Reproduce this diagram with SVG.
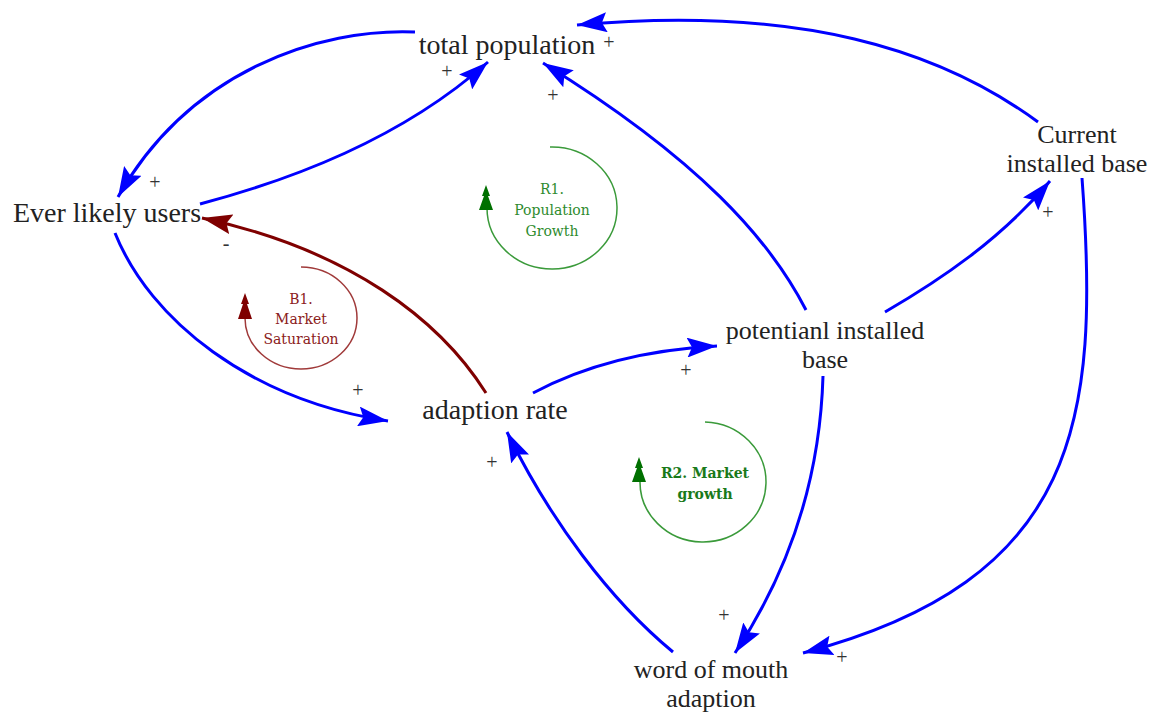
<svg xmlns="http://www.w3.org/2000/svg" width="1165" height="715" viewBox="0 0 1165 715">
  <style>
    .node { font-family: "Liberation Serif", "Times New Roman", serif; font-size: 28px; fill: #222; text-anchor: middle; }
    .node2 { font-family: "Liberation Serif", "Times New Roman", serif; font-size: 26px; fill: #222; text-anchor: middle; }
    .pol { font-family: "Liberation Serif", "Times New Roman", serif; font-size: 20px; fill: #333; text-anchor: middle; }
    .link { fill: none; stroke: #0000ff; stroke-width: 3; }
    .neg { fill: none; stroke: #7f0000; stroke-width: 3; }
    .loop-g { fill: none; stroke: #3a9a3a; stroke-width: 1.5; }
    .loop-r { fill: none; stroke: #a03a3a; stroke-width: 1.5; }
    .lbl { font-family: "DejaVu Serif", serif; font-size: 14px; text-anchor: middle; }
  </style>
  <defs>
    <marker id="arrowBlue" markerUnits="userSpaceOnUse" markerWidth="32" markerHeight="20" refX="30" refY="10" orient="auto">
      <path d="M0,0 L30,10 L0,20 L5,10 z" fill="#0000ff"/>
    </marker>
    <marker id="arrowRed" markerUnits="userSpaceOnUse" markerWidth="32" markerHeight="20" refX="30" refY="10" orient="auto">
      <path d="M0,0 L30,10 L0,20 L5,10 z" fill="#7f0000"/>
    </marker>
  </defs>
  <rect width="1165" height="715" fill="#ffffff"/>

  <!-- causal links -->
  <g id="connectors">
    <path class="link" d="M415,32 C320,28 190,70 118,197" marker-end="url(#arrowBlue)"/>
    <path class="link" d="M200,204 C290,180 400,140 488,62" marker-end="url(#arrowBlue)"/>
    <path class="link" d="M806,310 C770,240 700,160 543,63" marker-end="url(#arrowBlue)"/>
    <path class="link" d="M1038,122 C940,50 800,5 577,25" marker-end="url(#arrowBlue)"/>
    <path class="link" d="M115,233 C150,320 250,400 388,421" marker-end="url(#arrowBlue)"/>
    <path class="neg" d="M486,393 C440,320 350,250 202,218" marker-end="url(#arrowRed)"/>
    <path class="link" d="M533,393 C580,368 640,350 717,346" marker-end="url(#arrowBlue)"/>
    <path class="link" d="M885,312 C940,280 1000,240 1050,181" marker-end="url(#arrowBlue)"/>
    <path class="link" d="M1082,178 C1100,420 1080,580 803,653" marker-end="url(#arrowBlue)"/>
    <path class="link" d="M823,376 C820,480 790,570 735,653" marker-end="url(#arrowBlue)"/>
    <path class="link" d="M673,652 C610,600 550,520 507,432" marker-end="url(#arrowBlue)"/>
  </g>

  <!-- link polarities -->
  <g id="polarities">
    <text class="pol" x="447" y="78">+</text>
    <text class="pol" x="609" y="49">+</text>
    <text class="pol" x="553" y="102">+</text>
    <text class="pol" x="155" y="189">+</text>
    <text class="pol" x="226" y="250">-</text>
    <text class="pol" x="358" y="397">+</text>
    <text class="pol" x="686" y="377">+</text>
    <text class="pol" x="492" y="469">+</text>
    <text class="pol" x="1048" y="219">+</text>
    <text class="pol" x="724" y="622">+</text>
    <text class="pol" x="842" y="664">+</text>
  </g>

  <!-- variables -->
  <g id="total-population"><text class="node" x="507" y="54">total population</text></g>
  <g id="ever-likely-users"><text class="node" x="107" y="222">Ever likely users</text></g>
  <g id="adaption-rate"><text class="node" x="495" y="419">adaption rate</text></g>
  <g id="potential-installed-base">
    <text class="node2" x="825" y="339">potentianl installed</text>
    <text class="node2" x="825" y="368">base</text>
  </g>
  <g id="current-installed-base">
    <text class="node2" x="1077" y="143">Current</text>
    <text class="node2" x="1077" y="172">installed base</text>
  </g>
  <g id="word-of-mouth">
    <text class="node2" x="711" y="678">word of mouth</text>
    <text class="node2" x="711" y="707">adaption</text>
  </g>

  <!-- loop B1 -->
  <g id="loop-b1">
    <path class="loop-r" d="M301,267 A56,51 0 1 1 245,318"/>
    <polygon points="245,293 241,304 243,304 238,319 252,319 247,304 249,304" fill="#7f0000"/>
    <text class="lbl" x="301" y="304" fill="#8b2020">B1.</text>
    <text class="lbl" x="301" y="324" fill="#8b2020">Market</text>
    <text class="lbl" x="301" y="344" fill="#8b2020">Saturation</text>
  </g>

  <!-- loop R1 -->
  <g id="loop-r1">
    <path class="loop-g" d="M550,147 A65,61 0 1 1 487,208"/>
    <polygon points="486,185 482,196 484,196 479,210 493,210 488,196 490,196" fill="#007000"/>
    <text class="lbl" x="552" y="194" fill="#2e8b2e">R1.</text>
    <text class="lbl" x="552" y="215" fill="#2e8b2e">Population</text>
    <text class="lbl" x="552" y="236" fill="#2e8b2e">Growth</text>
  </g>

  <!-- loop R2 -->
  <g id="loop-r2">
    <path class="loop-g" d="M705,422 A63,60 0 1 1 640,481"/>
    <polygon points="639,457 635,468 637,468 632,482 646,482 641,468 643,468" fill="#007000"/>
    <text class="lbl" x="705" y="478" fill="#1a7a1a" font-weight="bold">R2. Market</text>
    <text class="lbl" x="705" y="499" fill="#1a7a1a" font-weight="bold">growth</text>
  </g>
</svg>
